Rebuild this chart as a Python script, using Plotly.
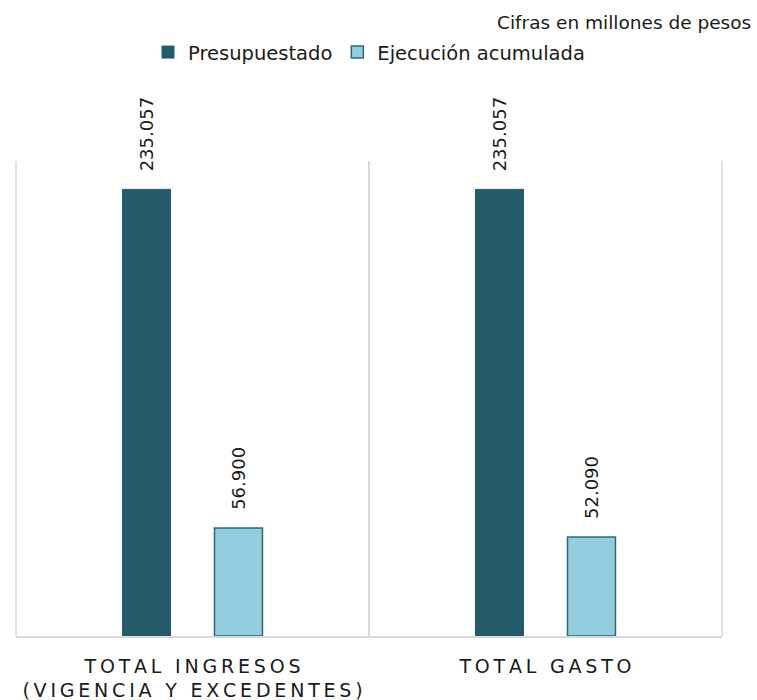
import plotly.graph_objects as go

categories = ["TOTAL INGRESOS<br>(VIGENCIA Y EXCEDENTES)", "TOTAL GASTO"]
presupuestado = [235057, 235057]
ejecucion = [56900, 52090]
series_names = ["Presupuestado", "Ejecución acumulada"]
note = "Cifras en millones de pesos"

FONT = "DejaVu Sans"
TXT = "#1a1a1a"
GRID = "#D9D9D9"


def spaced(label):
    # emulate the letter spacing of the original axis labels
    parts = label.split("<br>")
    return "<br>".join("\u2009".join(list(p)) for p in parts)


label_tpl = "\u00a0\u00a0\u2009%{y:,.0f}"

fig = go.Figure()
fig.add_trace(go.Bar(
    x=categories, y=presupuestado, name=series_names[0],
    marker=dict(color="#245B69", line=dict(color="#245B69", width=1)),
    texttemplate=label_tpl, textposition="outside", textangle=-90,
    textfont=dict(family=FONT, size=18, color=TXT),
    cliponaxis=False, constraintext="none",
))
fig.add_trace(go.Bar(
    x=categories, y=ejecucion, name=series_names[1],
    marker=dict(color="#93CDDD", line=dict(color="#2E6878", width=1.5)),
    texttemplate=label_tpl, textposition="outside", textangle=-90,
    textfont=dict(family=FONT, size=18, color=TXT),
    cliponaxis=False, constraintext="none",
))

fig.update_layout(
    width=757, height=700,
    margin=dict(l=16, r=35, t=161, b=64, autoexpand=False),
    paper_bgcolor="white", plot_bgcolor="white",
    barmode="group", bargap=0.479, bargroupgap=0.478,
    separators=",.",
    font=dict(family=FONT, size=18, color=TXT),
    showlegend=True,
    legend=dict(orientation="h", x=0.5, xanchor="center", y=0.953, yref="container",
                yanchor="top", font=dict(family=FONT, size=19.5, color=TXT),
                itemwidth=30, tracegroupgap=0, bgcolor="rgba(0,0,0,0)"),
    annotations=[dict(text=note, xref="paper", yref="paper", x=1.0439, y=1.2926,
                      xanchor="right", yanchor="middle", showarrow=False,
                      font=dict(family=FONT, size=18.5, color=TXT))],
    shapes=[dict(type="line", xref="x domain", yref="y domain", x0=d, x1=d, y0=0, y1=1,
                 line=dict(color=GRID, width=1.5), layer="below") for d in (0, 1)],
    xaxis=dict(type="category", tickson="boundaries", showgrid=True, automargin=False,
               gridcolor=GRID, gridwidth=1.5, showline=True, linecolor=GRID,
               linewidth=1.5, ticks="", tickvals=categories, ticklabelstandoff=12,
               ticktext=[spaced(c) for c in categories],
               tickfont=dict(family=FONT, size=19, color=TXT)),
    yaxis=dict(range=[0, 250000], visible=False, showgrid=False, zeroline=False,
               automargin=False),
)

fig.write_html("out.html", config={"displayModeBar": False},
               post_script="document.body.style.margin='0';")
